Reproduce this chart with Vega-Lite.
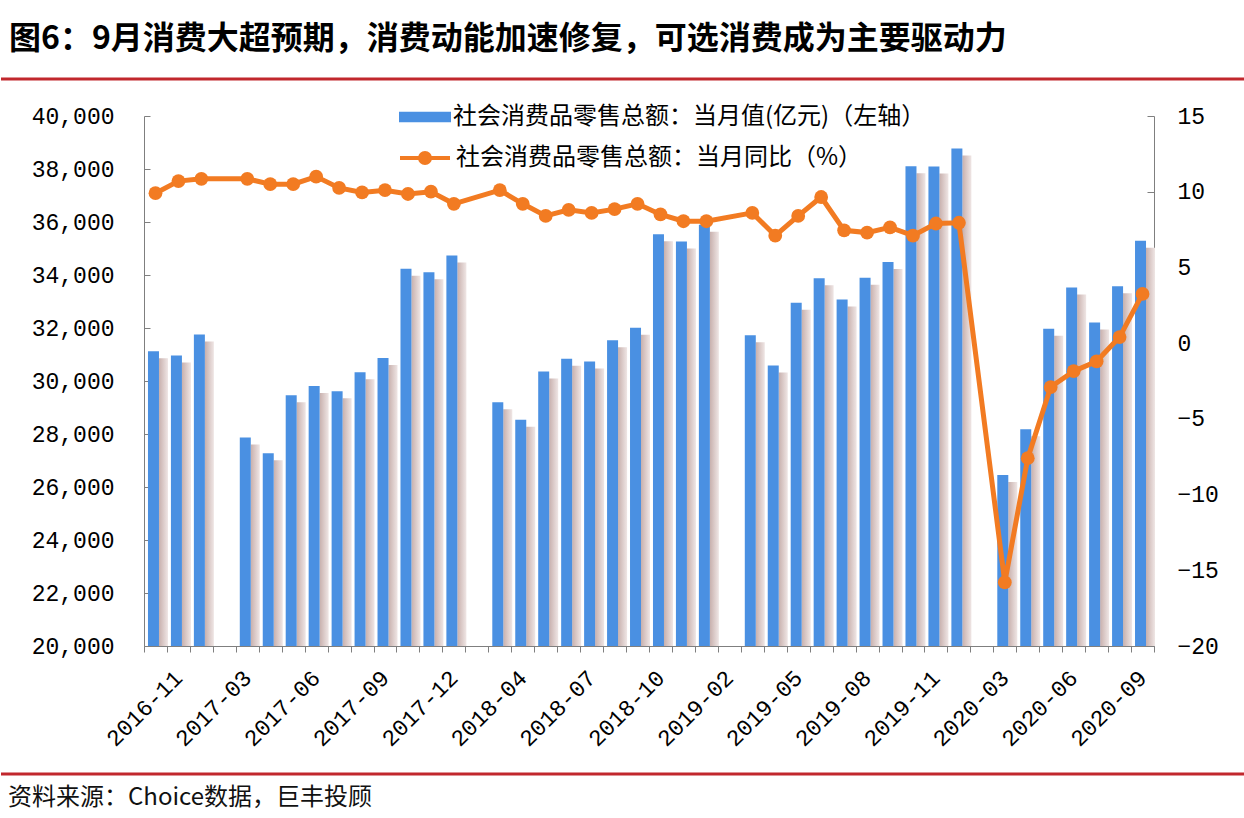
{
  "$schema": "https://vega.github.io/schema/vega-lite/v6.json",
  "padding": {"top": 22, "left": -7, "right": 0, "bottom": 0},
  "background": "white",
  "spacing": 10,
  "config": {
    "view": {"stroke": null},
    "font": "Noto Sans CJK SC",
    "axis": {"labelFont": "Liberation Mono", "labelFontSize": 23, "labelColor": "#000000", "domainColor": "#7f7f7f", "tickColor": "#7f7f7f", "grid": false, "title": null}
  },
  "datasets": {
    "d": [
      {"m": "2016-10", "v": 31119, "yoy": 9.9},
      {"m": "2016-11", "v": 30959, "yoy": 10.7},
      {"m": "2016-12", "v": 31757, "yoy": 10.85},
      {"m": "2017-02", "v": null, "yoy": null},
      {"m": "2017-03", "v": 27864, "yoy": 10.85},
      {"m": "2017-04", "v": 27278, "yoy": 10.5},
      {"m": "2017-05", "v": 29459, "yoy": 10.5},
      {"m": "2017-06", "v": 29808, "yoy": 11.0},
      {"m": "2017-07", "v": 29610, "yoy": 10.25},
      {"m": "2017-08", "v": 30330, "yoy": 9.95},
      {"m": "2017-09", "v": 30870, "yoy": 10.1},
      {"m": "2017-10", "v": 34240, "yoy": 9.85},
      {"m": "2017-11", "v": 34108, "yoy": 10.0},
      {"m": "2017-12", "v": 34734, "yoy": 9.2},
      {"m": "2018-02", "v": null, "yoy": null},
      {"m": "2018-03", "v": 29194, "yoy": 10.1},
      {"m": "2018-04", "v": 28542, "yoy": 9.2},
      {"m": "2018-05", "v": 30359, "yoy": 8.4},
      {"m": "2018-06", "v": 30842, "yoy": 8.8},
      {"m": "2018-07", "v": 30734, "yoy": 8.6},
      {"m": "2018-08", "v": 31542, "yoy": 8.85},
      {"m": "2018-09", "v": 32005, "yoy": 9.2},
      {"m": "2018-10", "v": 35534, "yoy": 8.5},
      {"m": "2018-11", "v": 35260, "yoy": 8.05},
      {"m": "2018-12", "v": 35893, "yoy": 8.05},
      {"m": "2019-02", "v": null, "yoy": null},
      {"m": "2019-03", "v": 31726, "yoy": 8.6},
      {"m": "2019-04", "v": 30586, "yoy": 7.1},
      {"m": "2019-05", "v": 32956, "yoy": 8.4},
      {"m": "2019-06", "v": 33878, "yoy": 9.65},
      {"m": "2019-07", "v": 33073, "yoy": 7.45},
      {"m": "2019-08", "v": 33896, "yoy": 7.3},
      {"m": "2019-09", "v": 34495, "yoy": 7.65},
      {"m": "2019-10", "v": 38104, "yoy": 7.1},
      {"m": "2019-11", "v": 38094, "yoy": 7.9},
      {"m": "2019-12", "v": 38777, "yoy": 7.95},
      {"m": "2020-02", "v": null, "yoy": null},
      {"m": "2020-03", "v": 26450, "yoy": -15.8},
      {"m": "2020-04", "v": 28178, "yoy": -7.6},
      {"m": "2020-05", "v": 31973, "yoy": -2.9},
      {"m": "2020-06", "v": 33526, "yoy": -1.85},
      {"m": "2020-07", "v": 32203, "yoy": -1.2},
      {"m": "2020-08", "v": 33571, "yoy": 0.4},
      {"m": "2020-09", "v": 35295, "yoy": 3.25}
    ],
    "rule": [{"r": 0}]
  },
  "vconcat": [
    {
      "width": 1244,
      "height": 1,
      "title": {"text": "图6：9月消费大超预期，消费动能加速修复，可选消费成为主要驱动力", "anchor": "start", "frame": "group", "fontSize": 32, "fontWeight": "bold", "font": "Noto Sans CJK SC", "color": "#000000", "offset": 22, "dx": 8},
      "data": {"name": "rule"},
      "mark": {"type": "rule", "color": "#c1272d", "strokeWidth": 3},
      "encoding": {"y": {"field": "r", "type": "quantitative", "axis": null, "scale": {"domain": [0, 1]}}}
    },
    {
      "width": 1244,
      "height": 530,
      "data": {"name": "d"},
      "layer": [
        {
          "layer": [
            {
              "mark": {"type": "bar", "clip": true, "width": 9, "xOffset": 8, "yOffset": 7, "color": {"gradient": "linear", "x1": 0, "y1": 0, "x2": 1, "y2": 0, "stops": [{"offset": 0, "color": "#c8b0ad"}, {"offset": 1, "color": "#efe6e5"}]}},
              "encoding": {
                "x": {"field": "m", "type": "nominal", "sort": null, "scale": {"domain": ["2016-10","2016-11","2016-12","2017-02","2017-03","2017-04","2017-05","2017-06","2017-07","2017-08","2017-09","2017-10","2017-11","2017-12","2018-02","2018-03","2018-04","2018-05","2018-06","2018-07","2018-08","2018-09","2018-10","2018-11","2018-12","2019-02","2019-03","2019-04","2019-05","2019-06","2019-07","2019-08","2019-09","2019-10","2019-11","2019-12","2020-02","2020-03","2020-04","2020-05","2020-06","2020-07","2020-08","2020-09"], "range": [143, 1153], "paddingInner": 0, "paddingOuter": 0},
                  "axis": {"labelExpr": "indexof(['2016-11','2017-03','2017-06','2017-09','2017-12','2018-04','2018-07','2018-10','2019-02','2019-05','2019-08','2019-11','2020-03','2020-06','2020-09'], datum.value) >= 0 ? datum.value : ''", "labelAngle": -45, "labelAlign": "right", "labelBaseline": "middle", "labelOverlap": false, "tickBand": "extent", "tickSize": 6, "labelPadding": 22, "minExtent": 116, "maxExtent": 116}},
                "y": {"field": "v", "type": "quantitative", "scale": {"domain": [20000, 40000], "nice": false, "zero": false},
                  "axis": {"orient": "left", "offset": -143, "values": [20000, 22000, 24000, 26000, 28000, 30000, 32000, 34000, 36000, 38000, 40000], "labelExpr": "format(datum.value, ',')", "tickSize": -6, "labelPadding": 36}}
              }
            },
            {
              "mark": {"type": "bar", "clip": true, "width": 11, "xOffset": -2},
              "encoding": {
                "x": {"field": "m", "type": "nominal", "sort": null},
                "y": {"field": "v", "type": "quantitative"},
                "color": {"datum": "社会消费品零售总额：当月值(亿元)（左轴）", "type": "nominal", "scale": {"range": ["#4a90e2"]},
                  "legend": {"orient": "none", "legendX": 398, "legendY": -25, "title": null, "padding": 0, "symbolType": "M-1,-0.2H1V0.2H-1Z", "symbolSize": 2704, "symbolStrokeWidth": 0, "labelFont": "Noto Sans CJK SC", "labelFontSize": 24, "labelColor": "#000000", "labelOffset": 2, "labelLimit": 0}}
              }
            }
          ]
        },
        {
          "transform": [{"filter": "datum.yoy != null"}],
          "mark": {"type": "line", "strokeWidth": 5, "point": {"filled": true, "size": 190}},
          "encoding": {
            "x": {"field": "m", "type": "nominal", "sort": null},
            "y": {"field": "yoy", "type": "quantitative", "scale": {"domain": [-20, 15], "nice": false, "zero": false},
              "axis": {"orient": "right", "offset": -91, "values": [-20, -15, -10, -5, 0, 5, 10, 15], "tickSize": -7, "labelPadding": 30, "labelAlign": "left"}},
            "color": {"datum": "社会消费品零售总额：当月同比（%）", "type": "nominal", "scale": {"range": ["#f27b22"]},
              "legend": {"orient": "none", "legendX": 397, "legendY": 15, "title": null, "padding": 0, "symbolType": "M-1,0H-0.2A0.2,0.2,0,1,1,0.2,0A0.2,0.2,0,1,1,-0.2,0M0.2,0H1", "symbolSize": 2500, "symbolStrokeWidth": 4, "symbolFillColor": "#f27b22", "symbolStrokeColor": "#f27b22", "labelFont": "Noto Sans CJK SC", "labelFontSize": 24, "labelColor": "#000000", "labelOffset": 4, "labelLimit": 0}}
          }
        }
      ],
      "resolve": {"scale": {"y": "independent", "color": "independent"}}
    },
    {
      "width": 1244,
      "height": 1,
      "title": {"text": "资料来源：Choice数据，巨丰投顾", "orient": "bottom", "anchor": "start", "frame": "group", "fontSize": 24, "fontWeight": "normal", "font": "Noto Sans CJK SC", "color": "#111111", "offset": 10, "dx": 7},
      "data": {"name": "rule"},
      "mark": {"type": "rule", "color": "#c1272d", "strokeWidth": 3},
      "encoding": {"y": {"field": "r", "type": "quantitative", "axis": null, "scale": {"domain": [0, 1]}}}
    }
  ]
}
